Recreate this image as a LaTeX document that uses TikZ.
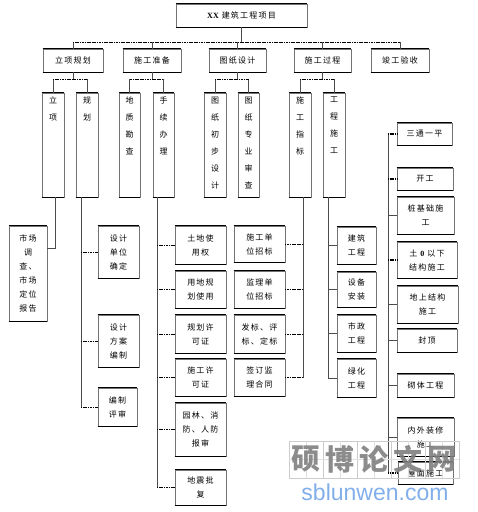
\documentclass[tikz,border=0pt]{standalone}
\usepackage{fontspec}
\setmainfont{Liberation Serif}
\newfontfamily\cjk[LetterSpace=15]{Noto Sans CJK SC}
\newfontfamily\cjkwm{Noto Sans CJK SC}
\newfontfamily\urlfont{Liberation Sans}
\definecolor{wmblue}{RGB}{130,175,235}
\newcommand\bx[6]{%
  \node[box,minimum width={(#4-#2)*1pt},minimum height={(#5-#3)*1pt}] (#1) at ({(#2+#4)/2},{(#3+#5)/2}) {#6};
  \draw[thickedge] (#1.north west) -- (#1.north east) (#1.south west) -- (#1.south east);}
\newcommand\vbx[6]{%
  \node[box,minimum width={(#4-#2)*1pt},minimum height={(#5-#3)*1pt}] (#1) at ({(#2+#4)/2},{(#3+#5)/2}) {};
  \draw[thickedge] (#1.north west) -- (#1.north east) (#1.south west) -- (#1.south east);
  \node[vtext,anchor=north] (#1t) at ([yshift=-4pt]#1.north) {#6};}
\begin{document}
\begin{tikzpicture}[x=1pt,y=-1pt,
  box/.style={draw=black!55,line width=0.7pt,fill=white,inner sep=0pt,align=center,
    font=\cjk\fontsize{8}{14}\selectfont},
  vtext/.style={inner sep=0pt,align=center,font=\cjk\fontsize{8}{17}\selectfont},
  thickedge/.style={draw=black,line width=1.3pt},
  conn/.style={draw=black!70,line width=0.6pt},
  stub/.style={draw=black,line width=0.9pt,dash pattern=on 1.2pt off 0.5pt}]
\useasboundingbox (0,0) rectangle (478,512);
\fill[white] (0,0) rectangle (478,512);

% top
\bx{top}{176}{4}{307}{27}{{\rmfamily\bfseries XX} 建筑工程项目}
% level 1
\bx{la}{43}{49}{103}{72}{立项规划}
\bx{lb}{123}{49}{181}{72}{施工准备}
\bx{lc}{209}{49}{266}{72}{图纸设计}
\bx{ld}{294}{49}{351}{72}{施工过程}
\bx{le}{371}{49}{429}{72}{竣工验收}
\coordinate (busL) at (73,42);
\coordinate (busR) at (400,42);
\draw[conn] (top.south) -- (top.south |- busL);
\foreach \n in {la,lb,lc,ld,le} \draw[conn] (\n.north) -- (\n.north |- busL);
\draw[stub] (busL) -- (busR);

% level 2
\vbx{a1}{42}{93}{64}{197}{立\\项}
\vbx{a2}{76}{93}{98}{197}{规\\划}
\vbx{b1}{119}{93}{140}{197}{地\\质\\勘\\查}
\vbx{b2}{153}{93}{174}{197}{手\\续\\办\\理}
\vbx{c1}{204}{93}{226}{197}{图\\纸\\初\\步\\设\\计}
\vbx{c2}{238}{93}{259}{197}{图\\纸\\专\\业\\审\\查}
\vbx{d1}{289}{93}{311}{197}{施\\工\\指\\标}
\vbx{d2}{323}{93}{345}{197}{工\\程\\施\\工}
\foreach \p/\u/\v in {la/a1/a2,lb/b1/b2,lc/c1/c2,ld/d1/d2}{
  \coordinate (sb\p) at ([yshift=-7pt]\p.south);
  \draw[conn] (\p.south) -- (sb\p);
  \draw[conn] (\u.north |- sb\p) -- (\u.north);
  \draw[conn] (\v.north |- sb\p) -- (\v.north);
  \draw[stub] (\u.north |- sb\p) -- (\v.north |- sb\p);
}

% 立项
\bx{mk}{9}{226}{47}{321}{市场\\调\\查、\\市场\\定位\\报告}
\coordinate (j1) at (55,248);
\draw[conn] (a1.south -| j1) -- (j1) -- (j1 -| mk.east);

% 规划
\bx{g1}{98}{226}{139}{278}{设计\\单位\\确定}
\bx{g2}{98}{315}{139}{367}{设计\\方案\\编制}
\bx{g3}{98}{388}{137}{426}{编制\\评审}
\coordinate (gv) at (81,0);
\draw[conn] (a2.south -| gv) -- (g3.west -| gv);
\foreach \n in {g1,g2,g3} \draw[stub] (\n.west -| gv) -- (\n.west);

% 手续办理
\bx{h1}{175}{226}{226}{264}{土地使\\用权}
\bx{h2}{175}{271}{226}{308}{用地规\\划使用}
\bx{h3}{175}{315}{226}{353}{规划许\\可证}
\bx{h4}{175}{359}{226}{396}{施工许\\可证}
\bx{h5}{175}{403}{226}{456}{园林、消\\防、人防\\报审}
\bx{h6}{175}{470}{226}{505}{地震批\\复}
\coordinate (hv) at (157,0);
\draw[conn] (b2.south -| hv) -- (h6.west -| hv);
\foreach \n in {h1,h2,h3,h4,h5,h6} \draw[stub] (\n.west -| hv) -- (\n.west);

% 施工指标
\bx{k1}{234}{226}{285}{262}{施工单\\位招标}
\bx{k2}{234}{271}{285}{308}{监理单\\位招标}
\bx{k3}{234}{315}{285}{353}{发标、评\\标、定标}
\bx{k4}{234}{359}{285}{396}{签订监\\理合同}
\coordinate (kv) at (303,0);
\draw[conn] (d1.south -| kv) -- (k4.east -| kv);
\foreach \n in {k1,k2,k3,k4} \draw[stub] (\n.east -| kv) -- (\n.east);

% 工程施工
\bx{p1}{337}{227}{376}{264}{建筑\\工程}
\bx{p2}{337}{272}{376}{307}{设备\\安装}
\bx{p3}{337}{315}{376}{352}{市政\\工程}
\bx{p4}{337}{359}{376}{397}{绿化\\工程}
\coordinate (pv) at (328,0);
\draw[conn] (d2.south -| pv) -- (p4.west -| pv);
\foreach \n in {p1,p2,p3,p4} \draw[conn] (\n.west -| pv) -- (\n.west);

% right column
\bx{r1}{397}{123}{452}{145}{三通一平}
\bx{r2}{397}{168}{453}{190}{开工}
\bx{r3}{397}{197}{454}{234}{桩基础施\\工}
\bx{r4}{397}{242}{457}{278}{土 {\rmfamily\bfseries 0} 以下\\结构施工}
\bx{r5}{397}{286}{458}{323}{地上结构\\施工}
\bx{r6}{397}{329}{457}{352}{封顶}
\bx{r7}{397}{374}{454}{397}{砌体工程}
\bx{r8}{397}{418}{454}{456}{内外装修\\施工}
\bx{r9}{398}{462}{453}{484}{屋面施工}
\coordinate (rv) at (388,0);
\draw[conn] (r1.west -| rv) -- (r9.west -| rv);
\foreach \n in {r1,r2,r4,r9} \draw[stub,line width=1.2pt] (\n.west -| rv) -- (\n.west);
\foreach \n in {r3,r5,r6,r7,r8} \draw[conn] (\n.west -| rv) -- (\n.west);

% watermark
\foreach \c [count=\i] in {硕,博,论,文,网}{
  \pgfmathsetmacro\xx{289+34*(\i-1)}
  \draw[black!20,line width=0.5pt] (\xx,441) rectangle ++(34,37);
  \draw[black!12,line width=0.4pt] (\xx+17,441) -- ++(0,37) (\xx,459.5) -- ++(34,0);
  \node[inner sep=0pt,text=black!50,opacity=0.9,font=\cjkwm\bfseries\fontsize{29}{29}\selectfont] (wm\i) at (\xx+17,459.5) {\c};
}
\node[inner sep=0pt,text=wmblue,font=\urlfont\fontsize{23}{23}\selectfont] (wmurl) at (375,492) {sblunwen.com};
\end{tikzpicture}
\end{document}
